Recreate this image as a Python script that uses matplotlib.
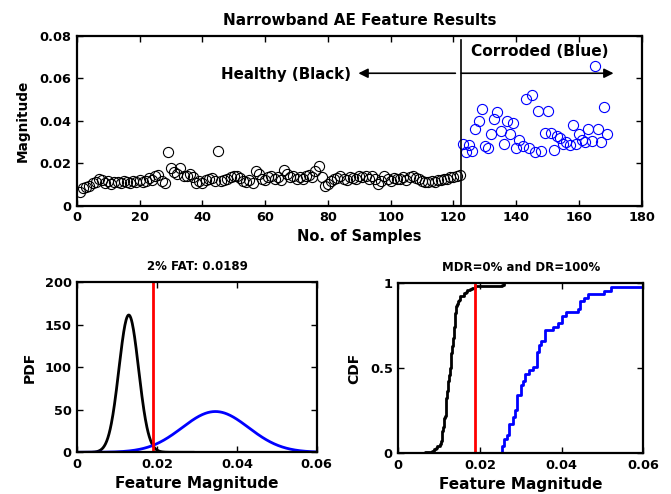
import numpy as np
import matplotlib
matplotlib.use('Agg')
import matplotlib.pyplot as plt

# Narrowband AE feature value per sample
healthy = [
    0.0066, 0.0082, 0.0088, 0.0095, 0.0105, 0.0112, 0.0128, 0.0120, 0.0108, 0.0115,
    0.0102, 0.0110, 0.0114, 0.0108, 0.0118, 0.0112, 0.0106, 0.0116, 0.0110, 0.0120,
    0.0112, 0.0118, 0.0130, 0.0122, 0.0138, 0.0146, 0.0118, 0.0106, 0.0255, 0.0180,
    0.0160, 0.0150, 0.0176, 0.0142, 0.0138, 0.0152, 0.0136, 0.0108, 0.0118, 0.0106,
    0.0122, 0.0128, 0.0132, 0.0118, 0.0260, 0.0116, 0.0122, 0.0128, 0.0134, 0.0140,
    0.0138, 0.0132, 0.0118, 0.0112, 0.0120, 0.0106, 0.0162, 0.0148, 0.0128, 0.0120,
    0.0134, 0.0142, 0.0126, 0.0136, 0.0122, 0.0168, 0.0150, 0.0136, 0.0142, 0.0128,
    0.0134, 0.0124, 0.0140, 0.0146, 0.0136, 0.0166, 0.0188, 0.0136, 0.0092, 0.0104,
    0.0116, 0.0124, 0.0132, 0.0142, 0.0128, 0.0122, 0.0136, 0.0130, 0.0124, 0.0140,
    0.0134, 0.0140, 0.0128, 0.0138, 0.0126, 0.0102, 0.0116, 0.0142, 0.0126, 0.0118,
    0.0132, 0.0124, 0.0128, 0.0134, 0.0122, 0.0136, 0.0140, 0.0132, 0.0126, 0.0118,
    0.0112, 0.0110, 0.0116, 0.0112, 0.0122, 0.0120, 0.0128, 0.0126, 0.0134, 0.0136,
    0.0140, 0.0144,
]
corroded = [
    0.0290, 0.0255, 0.0285, 0.0260, 0.0360, 0.0400, 0.0455, 0.0280, 0.0270, 0.0340,
    0.0410, 0.0440, 0.0350, 0.0290, 0.0400, 0.0340, 0.0390, 0.0270, 0.0310, 0.0280,
    0.0505, 0.0270, 0.0520, 0.0255, 0.0445, 0.0260, 0.0345, 0.0445, 0.0345, 0.0265,
    0.0330, 0.0320, 0.0290, 0.0300, 0.0285, 0.0380, 0.0290, 0.0340, 0.0310, 0.0300,
    0.0360, 0.0305, 0.0660, 0.0360, 0.0300, 0.0465, 0.0340,
]

threshold = 0.0189   # 2% false alarm threshold
split_sample = 122.5

top_xticks = [0, 20, 40, 60, 80, 100, 120, 140, 160, 180]
top_yticks = [0, 0.02, 0.04, 0.06, 0.08]
top_ylabels = ['0', '0.02', '0.04', '0.06', '0.08']
mag_ticks = [0, 0.02, 0.04, 0.06]
mag_labels = ['0', '0.02', '0.04', '0.06']
pdf_ticks = [0, 50, 100, 150, 200]
cdf_ticks = [0, 0.5, 1]
cdf_labels = ['0', '0.5', '1']


def style_axes(ax):
    for s in ax.spines.values():
        s.set_linewidth(1.6)
    ax.tick_params(direction='in', top=True, right=True, length=4, width=1,
                   labelsize=9.3, pad=4)
    for lab in ax.get_xticklabels() + ax.get_yticklabels():
        lab.set_fontweight('bold')


def normal_pdf(x, data):
    mu = np.mean(data)
    sigma = np.std(data, ddof=1)
    return np.exp(-0.5 * ((x - mu) / sigma) ** 2) / (sigma * np.sqrt(2 * np.pi))


def ecdf(data):
    s = np.sort(data)
    x = np.r_[s[0], s]
    y = np.r_[0, np.arange(1, len(s) + 1) / len(s)]
    return x, y


def main():
    fig = plt.figure(figsize=(6.71, 4.94), dpi=100)

    # samples scatter
    ax = fig.add_axes([0.1145, 0.5834, 0.842, 0.344])
    n_h = len(healthy)
    xh = np.arange(1, n_h + 1)
    xc = np.arange(n_h + 1, n_h + len(corroded) + 1)
    ax.plot(xh, healthy, 'o', mfc='none', mec='black', ms=7.3, mew=0.8)
    ax.plot(xc, corroded, 'o', mfc='none', mec='blue', ms=7.3, mew=0.8)
    ax.plot([split_sample, split_sample], [0, 0.078], color='black', lw=1.2)
    ax.annotate('', xy=(89.7, 0.0624), xytext=(120.6, 0.0624),
                arrowprops=dict(arrowstyle='-|>', color='black', lw=1.2,
                                mutation_scale=14, shrinkA=0, shrinkB=0))
    ax.annotate('', xy=(171, 0.0624), xytext=(split_sample, 0.0624),
                arrowprops=dict(arrowstyle='-|>', color='black', lw=1.2,
                                mutation_scale=14, shrinkA=0, shrinkB=0))
    ax.text(87.5, 0.0620, 'Healthy (Black)', ha='right', va='center',
            fontsize=10.8, fontweight='bold')
    ax.text(147.5, 0.0725, 'Corroded (Blue)', ha='center', va='center',
            fontsize=11.1, fontweight='bold')
    ax.set_xlim(0, 180)
    ax.set_ylim(0, 0.08)
    ax.set_xticks(top_xticks)
    ax.set_yticks(top_yticks)
    ax.set_yticklabels(top_ylabels)
    ax.set_xlabel('No. of Samples', fontsize=10.5, fontweight='bold', labelpad=3)
    ax.set_ylabel('Magnitude', fontsize=9.8, fontweight='bold', labelpad=7)
    ax.set_title('Narrowband AE Feature Results', fontsize=11, fontweight='bold', pad=8)
    style_axes(ax)

    # fitted PDFs
    ax1 = fig.add_axes([0.1152, 0.0844, 0.3568, 0.344])
    xb = np.linspace(0, 0.029, 300)
    xr = np.linspace(0, 0.06, 300)
    ax1.plot(xb, normal_pdf(xb, healthy), color='black', lw=2)
    ax1.plot(xr, normal_pdf(xr, corroded), color='blue', lw=2)
    ax1.plot([threshold, threshold], [0, 200], color='red', lw=2)
    ax1.set_xlim(0, 0.06)
    ax1.set_ylim(0, 200)
    ax1.set_xticks(mag_ticks)
    ax1.set_xticklabels(mag_labels)
    ax1.set_yticks(pdf_ticks)
    ax1.set_xlabel('Feature Magnitude', fontsize=11, fontweight='bold', labelpad=4)
    ax1.set_ylabel('PDF', fontsize=10, fontweight='bold', labelpad=6)
    ax1.set_title('2%% FAT: %.4f' % threshold, fontsize=8.5, fontweight='bold', pad=9)
    style_axes(ax1)

    # empirical CDFs
    ax2 = fig.add_axes([0.5936, 0.0824, 0.3651, 0.344])
    hx, hy = ecdf(healthy)
    cx, cy = ecdf(corroded)
    ax2.step(hx, hy, where='post', color='black', lw=2)
    ax2.step(cx, cy, where='post', color='blue', lw=2)
    ax2.plot([threshold, threshold], [0, 1], color='red', lw=2)
    ax2.set_xlim(0, 0.06)
    ax2.set_ylim(0, 1)
    ax2.set_xticks(mag_ticks)
    ax2.set_xticklabels(mag_labels)
    ax2.set_yticks(cdf_ticks)
    ax2.set_yticklabels(cdf_labels)
    ax2.set_xlabel('Feature Magnitude', fontsize=11, fontweight='bold', labelpad=4)
    ax2.set_ylabel('CDF', fontsize=10, fontweight='bold', labelpad=6)
    ax2.set_title('MDR=0% and DR=100%', fontsize=8.5, fontweight='bold', pad=9)
    style_axes(ax2)

    fig.savefig('out.png', dpi=100)
    plt.close(fig)


if __name__ == "__main__":
    main()
